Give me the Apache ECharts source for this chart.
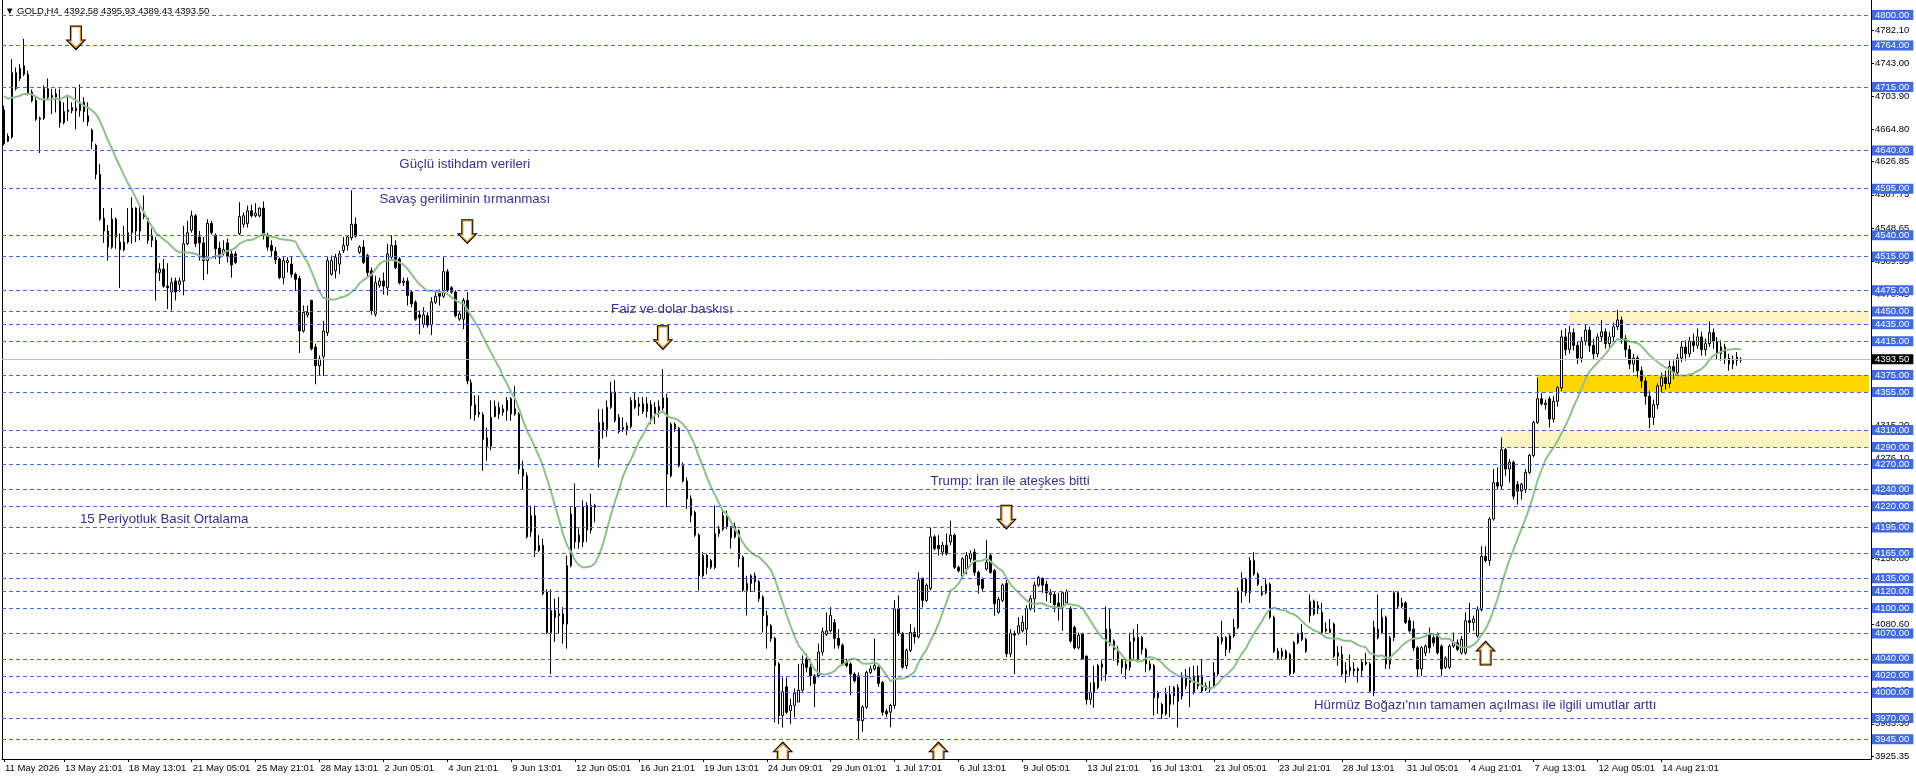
<!DOCTYPE html>
<html><head><meta charset="utf-8">
<script src="https://cdn.jsdelivr.net/npm/echarts@6/dist/echarts.min.js"></script>
<style>html,body{margin:0;padding:0;background:#fff}#c{width:1916px;height:781px}</style>
</head><body><div id="c"></div>
<script>
// ---------- DATA ----------
const xLabels = ['11 May 2026','13 May 21:01','18 May 13:01','21 May 05:01','25 May 21:01','28 May 13:01','2 Jun 05:01','4 Jun 21:01','9 Jun 13:01','12 Jun 05:01','16 Jun 21:01','19 Jun 13:01','24 Jun 09:01','29 Jun 01:01','1 Jul 17:01','6 Jul 13:01','9 Jul 05:01','13 Jul 21:01','16 Jul 13:01','21 Jul 05:01','23 Jul 21:01','28 Jul 13:01','31 Jul 05:01','4 Aug 21:01','7 Aug 13:01','12 Aug 05:01','14 Aug 21:01'];
// [open, high, low, close]
const seg1 = [
[4688,4693,4646,4648],[4651,4660,4650,4657],[4656,4748,4654,4732],[4713,4738,4711,4732],[4725,4742,4722,4737],[4730,4772,4728,4740],[4730,4734,4705,4707],[4709,4712,4697,4699],[4699,4703,4675,4677],[4678,4680,4637,4677],
[4678,4717,4676,4713],[4713,4725,4700,4703],[4705,4713,4683,4703],[4703,4713,4685,4707],[4698,4713,4667,4673],[4673,4697,4671,4686],[4686,4703,4675,4688],[4687,4697,4684,4691],[4690,4715,4665,4687],[4687,4718,4680,4697],
[4697,4703,4674,4686],[4681,4697,4669,4674],[4664,4666,4642,4651],[4646,4648,4606,4612],[4612,4624,4557,4559],[4560,4572,4531,4545],[4545,4552,4510,4526],[4526,4572,4524,4559],[4559,4561,4524,4538],[4532,4542,4478,4523],
[4523,4551,4521,4532],[4532,4572,4530,4543],[4543,4585,4530,4572],[4572,4573,4532,4545],[4545,4573,4534,4567],[4562,4587,4559,4567],[4560,4561,4530,4534],[4534,4548,4526,4540],[4534,4538,4463,4496],[4496,4507,4486,4500],
[4500,4512,4478,4480],[4480,4507,4453,4478],[4473,4490,4451,4484],[4486,4490,4463,4473],[4482,4490,4473,4486],[4486,4551,4469,4530],[4530,4557,4528,4543],[4546,4569,4543,4563],[4563,4565,4526,4530],[4538,4545,4510,4531],
[4531,4538,4487,4510],[4510,4559,4494,4554],[4554,4557,4541,4543],[4540,4542,4512,4524],[4525,4532,4506,4514],[4519,4534,4516,4523],[4531,4536,4508,4515],[4518,4522,4490,4505],[4518,4521,4506,4508],[4542,4579,4540,4562],
[4553,4567,4549,4563],[4554,4575,4549,4569],[4569,4576,4561,4563],[4563,4578,4561,4566],[4563,4573,4561,4572],[4572,4580,4535,4541],[4540,4543,4522,4526],[4528,4534,4514,4522],[4521,4526,4506,4511],[4512,4514,4488,4490],
[4490,4514,4482,4510],[4508,4514,4496,4510],[4506,4515,4490,4494],[4494,4496,4474,4488],[4489,4492,4401,4427],[4427,4457,4425,4449],[4446,4457,4443,4449],[4463,4464,4404,4406],[4408,4412,4364,4386],[4386,4398,4374,4394],
[4397,4439,4374,4427],[4425,4514,4421,4510],[4494,4516,4492,4510],[4498,4518,4489,4514],[4506,4522,4494,4518],[4522,4538,4519,4528],[4528,4540,4522,4538],[4537,4593,4534,4553],[4553,4561,4537,4539],[4520,4528,4518,4526],
[4526,4534,4506,4508],[4516,4518,4492,4496],[4498,4502,4446,4451],[4447,4492,4444,4484],[4481,4490,4478,4486],[4486,4496,4470,4480],[4478,4530,4469,4518],[4514,4540,4512,4528],[4528,4534,4500,4502],[4512,4514,4482,4484],
[4484,4490,4480,4486],[4486,4490,4457,4469],[4473,4475,4455,4459],[4461,4463,4439,4441],[4446,4451,4423,4443],[4435,4455,4431,4446],[4445,4449,4431,4434],[4434,4467,4422,4461],[4461,4475,4459,4468],[4472,4476,4457,4468],
[4468,4514,4466,4497],[4497,4500,4473,4475],[4478,4480,4471,4473],[4473,4475,4443,4445],[4441,4451,4439,4447],[4441,4466,4429,4463],[4463,4473,4364,4368],[4366,4370,4323,4339],[4340,4351,4321,4328],[4329,4351,4325,4331],
[4328,4331,4262,4299],[4301,4313,4274,4291],[4291,4345,4286,4325],[4326,4345,4325,4338],[4329,4343,4323,4337],[4331,4340,4327,4335],[4333,4349,4321,4345],[4347,4349,4321,4329],[4335,4362,4327,4329],[4329,4331,4258,4264],
[4264,4274,4240,4256]
];
const seg2 = [
[4256,4260,4182,4184],[4190,4221,4184,4209],[4209,4221,4160,4168],[4168,4186,4166,4174],[4174,4182,4115,4117],[4119,4122,4069,4071],[4071,4122,4022,4097],[4097,4111,4060,4089],[4091,4113,4070,4093],[4093,4101,4058,4081],
[4081,4162,4052,4150],[4150,4219,4148,4211],[4219,4247,4170,4178],[4186,4194,4170,4178],[4178,4227,4172,4219],[4221,4225,4178,4192],[4192,4235,4188,4221],[4219,4223,4201,4221],[4276,4335,4266,4319],[4319,4335,4300,4310],
[4311,4345,4302,4337],[4337,4367,4335,4355],[4355,4369,4319,4321],[4325,4329,4306,4308],[4313,4325,4308,4311],[4311,4319,4304,4315],[4314,4349,4312,4345],[4345,4355,4335,4337],[4338,4349,4327,4341],[4341,4349,4329,4332],
[4332,4349,4325,4341],[4340,4345,4317,4325],[4337,4343,4317,4329],[4333,4345,4325,4338],[4336,4382,4333,4348],[4348,4353,4219,4258],[4256,4319,4254,4317],[4317,4319,4308,4312],[4312,4314,4266,4268],[4268,4272,4248,4250],
[4250,4254,4217,4229],[4229,4233,4201,4209],[4213,4215,4184,4186],[4186,4188,4121,4138],[4138,4166,4136,4162],[4162,4164,4140,4148],[4148,4158,4146,4156],[4148,4221,4146,4188],[4188,4197,4184,4193],[4193,4215,4191,4209],
[4209,4215,4193,4196],[4196,4197,4170,4183],[4196,4201,4182,4184],[4191,4193,4148,4158],[4160,4162,4119,4121],[4121,4138,4091,4129],[4129,4140,4119,4138],[4138,4142,4119,4131],[4131,4133,4107,4111],[4113,4115,4071,4091],
[4091,4097,4052,4079],[4079,4081,4060,4064],[4064,4066,3965,4032],[4034,4036,3963,3973],[3973,4018,3959,4001],[4007,4018,3975,3977],[3979,3993,3963,3985],[3985,4005,3971,3999],[3989,4034,3989,4003],[4003,4044,4001,4034],
[4040,4046,4024,4030],[4030,4034,4008,4020],[4020,4022,3983,4011],[4020,4058,4018,4048],[4048,4077,4044,4072],[4069,4095,4067,4073],[4073,4101,4071,4091],[4083,4087,4052,4064],[4064,4075,4052,4056],[4056,4058,4032,4034],
[4036,4040,4030,4032],[4034,4036,3997,4022],[4022,4024,4012,4014],[4020,4024,3944,3967],[3967,3985,3954,3983],[3983,4026,3981,4024],[4024,4032,4022,4028],[4028,4064,4026,4032],[4030,4032,4007,4011],[4012,4014,3973,3977],
[3978,3981,3971,3975],[3977,3987,3959,3985],[3985,4109,3981,4099],[4099,4115,4067,4070],[4070,4072,4028,4030],[4032,4052,4028,4050],[4050,4081,4048,4071],[4071,4077,4058,4066],[4066,4142,4064,4133],[4135,4136,4101,4109],
[4109,4129,4107,4127],[4123,4195,4121,4184],[4184,4186,4168,4170],[4174,4186,4162,4170],[4166,4178,4162,4174],[4174,4188,4162,4164],[4178,4203,4174,4186],[4186,4188,4146,4148],[4148,4150,4142,4144],[4138,4160,4134,4158],
[4146,4166,4140,4162],[4158,4168,4154,4164],[4166,4170,4138,4142],[4142,4144,4117,4127],[4134,4136,4119,4123],[4146,4180,4144,4154],[4162,4164,4140,4142],[4144,4146,4091,4105],[4095,4113,4093,4110],[4109,4129,4107,4127],
[4129,4133,4042,4046],[4046,4075,4042,4070],[4070,4073,4022,4068],[4070,4089,4068,4079],[4073,4091,4071,4083],[4075,4103,4056,4099],[4099,4115,4097,4111],[4111,4131,4095,4127],[4127,4138,4125,4136]
];
const seg3 = [
[4135,4136,4118,4127],[4128,4132,4108,4118],[4116,4122,4106,4118],[4116,4120,4095,4104],[4106,4118,4085,4100],[4100,4120,4073,4118],[4106,4122,4104,4119],[4099,4102,4059,4061],[4077,4079,4051,4053],[4053,4071,4051,4068],
[4069,4071,4039,4040],[4043,4044,3986,3992],[3992,4012,3986,4000],[4000,4032,3982,4012],[4006,4034,4004,4032],[4030,4038,4014,4034],[4022,4102,4014,4075],[4075,4099,4055,4059],[4061,4063,4038,4051],[4051,4055,4032,4036],
[4038,4040,4022,4030],[4034,4038,4016,4028],[4030,4071,4026,4060],[4061,4075,4038,4065],[4065,4081,4036,4040],[4065,4067,4045,4051],[4051,4053,4024,4034],[4034,4038,4026,4028],[4032,4034,3973,3994],[3994,4002,3975,4000],
[3986,3988,3969,3975],[3975,4006,3973,3998],[3986,4008,3971,3998],[3996,4008,3986,4006],[4006,4010,3959,3990],[3996,4024,3992,4020],[4008,4028,4004,4020],[4012,4030,3983,4018],[4000,4032,3998,4020],[4008,4032,4004,4020],
[4020,4040,4000,4002],[4008,4012,4002,4004],[4004,4014,4000,4006],[4008,4036,4006,4024],[4022,4067,4020,4065],[4061,4085,4057,4065],[4065,4067,4043,4051],[4051,4069,4047,4067],[4067,4087,4065,4077],[4077,4124,4075,4120],
[4120,4142,4106,4134],[4134,4136,4114,4118],[4118,4160,4106,4156],[4156,4166,4138,4140],[4140,4142,4126,4128],[4118,4126,4114,4116],[4118,4134,4116,4128],[4128,4130,4087,4089],[4089,4091,4047,4049],[4049,4053,4039,4041],
[4043,4053,4039,4049],[4049,4051,4039,4041],[4045,4047,4020,4022],[4024,4061,4022,4059],[4059,4071,4057,4069],[4071,4081,4061,4063],[4063,4065,4047,4049],[4091,4116,4083,4108],[4108,4110,4091,4093],[4099,4108,4093,4103],
[4095,4106,4069,4071],[4075,4083,4071,4073],[4071,4087,4071,4075],[4081,4083,4041,4043],[4047,4055,4032,4043],[4045,4055,4020,4022],[4026,4036,4012,4022],[4026,4045,4020,4030],[4028,4036,4020,4026],[4028,4030,4012,4026],
[4026,4040,4020,4036],[4036,4047,4032,4034],[4034,4036,4000,4002],[4002,4085,3996,4077],[4075,4116,4063,4065],[4071,4100,4069,4089],[4089,4091,4028,4034],[4034,4067,4028,4065],[4065,4120,4061,4118],[4118,4120,4100,4102],
[4106,4112,4100,4102],[4106,4108,4081,4083],[4085,4089,4071,4073],[4075,4085,4049,4053],[4053,4055,4020,4028],[4028,4055,4020,4053],[4047,4057,4043,4055],[4069,4077,4047,4053],[4065,4069,4055,4059],[4069,4071,4045,4047],
[4055,4057,4020,4028],[4030,4043,4028,4041],[4030,4057,4028,4055],[4055,4071,4053,4059],[4059,4063,4049,4051],[4047,4067,4045,4063],[4047,4095,4045,4085],[4085,4106,4071,4083],[4083,4091,4073,4087],[4067,4102,4065,4098],
[4098,4173,4096,4161],[4161,4173,4154,4156],[4156,4207,4150,4205],[4205,4264,4203,4248],[4248,4266,4240,4244],[4244,4301,4240,4287],[4287,4289,4256,4264],[4264,4276,4248,4272],[4272,4274,4228,4232],[4246,4250,4222,4238],
[4238,4248,4228,4246],[4240,4264,4236,4260],[4260,4282,4258,4280],[4280,4321,4278,4319],[4319,4372,4317,4347],[4347,4354,4339,4341],[4340,4346,4334,4342],[4347,4350,4313,4323],[4323,4350,4319,4344],[4344,4362,4338,4360]
];
const seg4 = [
[4360,4428,4356,4420],[4420,4430,4398,4405],[4405,4433,4400,4425],[4425,4430,4404,4410],[4410,4415,4388,4395],[4395,4420,4390,4415],[4415,4434,4410,4428],[4428,4432,4402,4410],[4410,4418,4394,4400],[4400,4424,4396,4420],
[4420,4440,4414,4426],[4426,4430,4406,4412],[4412,4426,4405,4420],[4420,4437,4415,4432],[4432,4452,4428,4440],[4440,4444,4412,4418],[4418,4422,4396,4405],[4405,4410,4382,4388],[4388,4400,4378,4395],[4395,4398,4372,4380],
[4380,4385,4360,4368],[4368,4372,4340,4350],[4350,4356,4312,4325],[4325,4346,4316,4340],[4340,4365,4335,4362],[4362,4378,4355,4372],[4372,4380,4358,4365],[4365,4392,4360,4385],[4385,4392,4370,4378],[4378,4400,4374,4395],
[4395,4415,4390,4408],[4408,4416,4392,4400],[4400,4420,4396,4415],[4415,4424,4402,4410],[4410,4430,4406,4420],[4420,4426,4398,4405],[4405,4418,4398,4412],[4412,4438,4408,4425],[4425,4430,4406,4415],[4415,4420,4394,4400],
[4400,4416,4392,4408],[4408,4412,4388,4395],[4395,4400,4380,4388],[4388,4398,4382,4392],[4392,4402,4386,4396],[4392.58,4395.93,4389.43,4393.50]
];
const priorCloses = [4705,4712,4720,4716,4708,4702,4710,4718,4722,4715,4706,4700,4695,4688];
const levelLines = [4800,4764,4715,4640,4595,4540,4515,4475,4450,4435,4415,4375,4355,4310,4290,4270,4240,4220,4195,4165,4135,4120,4100,4070,4040,4020,4000,3970,3945];
const axisTickValues = [3925.35,3963.30,4002.40,4041.50,4080.60,4119.70,4158.80,4197.90,4237.00,4276.10,4315.20,4354.30,4393.40,4432.50,4470.45,4509.55,4548.65,4587.75,4626.85,4664.80,4703.90,4743.00,4782.10];
const lastPrice = 4393.50;
const headerText = '\u25BC GOLD,H4  4392.58 4395.93 4389.43 4393.50';
// zones: [start bar, low, high, kind]
const zones = [[392,4435,4450,'light'],[384,4355,4375,'gold'],[375,4290,4310,'light']];
// arrows: [bar, price, direction]
const arrows = [[18,4773,'down'],[116,4544,'down'],[165,4419,'down'],[251,4207,'down'],[195,3928,'up'],[234,3928,'up'],[371,4047,'up']];
// notes: [bar, price, text]
const notes = [
 [99,4624,'Güçlü istihdam verileri'],
 [94,4582,'Savaş geriliminin tırmanması'],
 [152,4453,'Faiz ve dolar baskısı'],
 [19,4205,'15 Periyotluk Basit Ortalama'],
 [232,4249,'Trump: İran ile ateşkes bitti'],
 [328,3985.5,'Hürmüz Boğazı\'nın tamamen açılması ile ilgili umutlar arttı']
];

// ---------- BUILD ----------
const FONT = '"Liberation Sans", Arial, sans-serif';
const ohlc = seg1.concat(seg2, seg3, seg4);
const N_SLOTS = 468;
const LABEL_STEP = 16, LABEL_OFFSET = 15;
const categories = Array.from({length: N_SLOTS}, (_, i) => String(i));
const candleData = ohlc.map(r => [r[0], r[3], r[2], r[1]]);
const closes = ohlc.map(r => r[3]);
const allCloses = priorCloses.concat(closes);
const P = 15;
const ma = closes.map((_, j) => {
  let s = 0; for (let k = j; k < j + P; k++) s += allCloses[k];
  return +(s / P).toFixed(2);
});
const Y_MAX = 4817.71, Y_MIN = 3921.74;
const zoneColors = {light: '#FFF3C2', gold: '#FFD700'};
function labelIndex(i) {
  if (i === 0) return 0;
  if (i >= LABEL_OFFSET && (i - LABEL_OFFSET) % LABEL_STEP === 0) {
    const k = (i - LABEL_OFFSET) / LABEL_STEP + 1;
    return k < xLabels.length ? k : -1;
  }
  return -1;
}
const tickInt = (i) => labelIndex(i) >= 0;

function arrowPts(cx, cy, dir, inset) {
  const s = dir > 0 ? -1 : 1;
  const hs = 6 - inset, hh = 10.5 - inset * 2.3, top = -12.5 + inset, neck = 1.5 + inset, tip = 12.5 - inset * 1.8;
  return [[cx - hs, cy + s*top],[cx + hs, cy + s*top],[cx + hs, cy + s*neck],[cx + hh, cy + s*neck],[cx, cy + s*tip],[cx - hh, cy + s*neck],[cx - hs, cy + s*neck]];
}

const chart = echarts.init(document.getElementById('c'), null, {renderer: 'canvas'});
chart.setOption({
  animation: false,
  backgroundColor: '#ffffff',
  grid: {left: 2, right: 45, top: 0, bottom: 22},
  graphic: [{type: 'text', x: 5, y: 11, style: {text: headerText, font: '9.5px ' + FONT, fill: '#000', verticalAlign: 'middle'}}],
  xAxis: {
    type: 'category', data: categories, boundaryGap: true,
    axisLine: {show: true, lineStyle: {color: '#000', width: 1}},
    axisTick: {show: true, interval: tickInt, alignWithLabel: true, length: 3, lineStyle: {color: '#000'}},
    axisLabel: {interval: tickInt, formatter: (v) => { const k = labelIndex(+v); return k >= 0 ? xLabels[k] : ''; },
      align: 'left', margin: 4, fontSize: 9.5, fontFamily: FONT, color: '#000', padding: [0, 0, 0, 1]},
    splitLine: {show: false}
  },
  yAxis: [
    {type: 'value', position: 'right', min: Y_MIN, max: Y_MAX,
     axisLine: {show: true, lineStyle: {color: '#000', width: 1}},
     axisTick: {show: true, customValues: axisTickValues, length: 3, lineStyle: {color: '#000'}},
     axisLabel: {customValues: axisTickValues, formatter: (v) => (+v).toFixed(2), fontSize: 9.5, fontFamily: FONT, color: '#000', margin: 4},
     splitLine: {show: false}},
    {type: 'value', position: 'left', min: Y_MIN, max: Y_MAX,
     axisLine: {show: true, lineStyle: {color: '#000', width: 1}},
     axisTick: {show: false}, axisLabel: {show: false}, splitLine: {show: false}}
  ],
  series: [
    {type: 'line', name: 'zones', data: [], z: 1, silent: true,
     markArea: {silent: true, itemStyle: {opacity: 1},
       data: zones.map(z => [{xAxis: z[0], yAxis: z[2], itemStyle: {color: zoneColors[z[3]], opacity: 1}}, {xAxis: N_SLOTS - 1, yAxis: z[1]}])}},
    {type: 'line', name: 'levels', data: [], z: 2, silent: true,
     markLine: {silent: true, symbol: ['none', 'none'], animation: false,
       data: levelLines.map(v => ({yAxis: v,
         lineStyle: {color: '#4169E1', type: [4, 3], width: 1},
         label: {show: true, position: 'end', distance: 1, formatter: () => v.toFixed(2), backgroundColor: '#4169E1', color: '#fff',
           fontSize: 9.5, fontFamily: FONT, padding: [0, 4, 0, 3], lineHeight: 10}})).concat([{
         yAxis: lastPrice, lineStyle: {color: '#c0c0c0', type: 'solid', width: 1},
         label: {show: true, position: 'end', distance: 1, formatter: () => lastPrice.toFixed(2), backgroundColor: '#000', color: '#fff',
           fontSize: 9.5, fontFamily: FONT, padding: [0, 4, 0, 3], lineHeight: 10}}])}},
    {type: 'candlestick', name: 'GOLD,H4', data: candleData, z: 3, barWidth: 2,
     itemStyle: {color: '#ffffff', color0: '#000000', borderColor: '#000000', borderColor0: '#000000', borderColorDoji: '#000000', borderWidth: 1}},
    {type: 'line', name: 'SMA15', data: ma, z: 4, symbol: 'none', smooth: false, silent: true,
     lineStyle: {color: '#8fbf8a', width: 2}},
    {type: 'custom', name: 'arrows', z: 5, clip: true, silent: true,
     data: arrows.map(a => [a[0], a[1], a[2] === 'up' ? 1 : -1]), encode: {x: 0, y: 1},
     renderItem: (params, api) => {
       const p = api.coord([api.value(0), api.value(1)]);
       const d = api.value(2);
       return {type: 'group', children: [
         {type: 'polygon', shape: {points: arrowPts(p[0], p[1], d, 0)}, style: {fill: '#000'}},
         {type: 'polygon', shape: {points: arrowPts(p[0], p[1], d, 1)}, style: {fill: '#e39a2d'}},
         {type: 'polygon', shape: {points: arrowPts(p[0], p[1], d, 2.2)}, style: {fill: '#fff'}}
       ]};
     }},
    {type: 'custom', name: 'notes', z: 5, silent: true,
     data: notes.map((n, k) => [n[0], n[1], k]), encode: {x: 0, y: 1},
     renderItem: (params, api) => {
       const p = api.coord([api.value(0), api.value(1)]);
       return {type: 'text', x: p[0], y: p[1], style: {text: notes[api.value(2)][2], fill: '#3a2d8c', font: '13.3px ' + FONT, align: 'left', verticalAlign: 'middle', textAlign: 'left', textVerticalAlign: 'middle'}};
     }}
  ]
});
</script></body></html>
